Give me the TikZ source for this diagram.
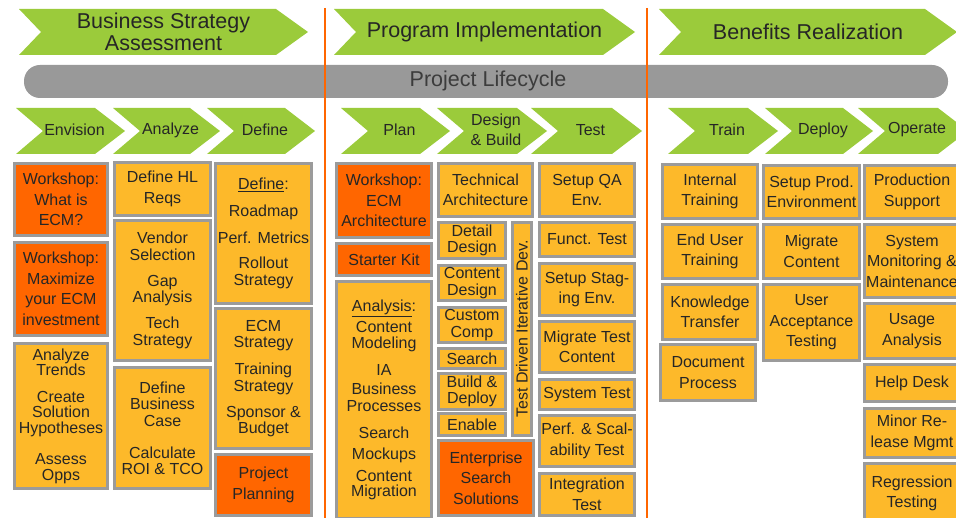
\documentclass[tikz,border=0pt]{standalone}
\usepackage{fontspec}
\setmainfont{Liberation Sans}
\definecolor{leaf}{HTML}{9BCB3B}
\definecolor{amber}{HTML}{FDB92A}
\definecolor{flame}{HTML}{FF6600}
\definecolor{rim}{HTML}{9B9B9B}
\definecolor{bar}{HTML}{999999}
\definecolor{ink}{HTML}{262626}
\newcommand{\phasechev}[4]{\fill[leaf] (#2,9) -- ({#3-32},9) -- (#3,32) -- ({#3-32},55) -- (#2,55) -- ({#2+22},32) -- cycle;
  \node[phasetext] (#1) at ({(#2+#3)/2},32) {#4};}
\newcommand{\stagechev}[4]{\fill[leaf] (#2,108) -- ({#3-30},108) -- (#3,131) -- ({#3-30},154) -- (#2,154) -- ({#2+27},131) -- cycle;
  \node[stagetext] (#1) at ({(#2+#3)/2+4},130) {#4};}
\newcommand{\taskbox}[7]{\node[task,#2,minimum width={#5pt-#3pt-3pt},minimum height={#6pt-#4pt-3pt}] (#1) at ({(#3+#5)/2},{(#4+#6)/2}) {#7};}

\begin{document}
\begin{tikzpicture}[x=1pt,y=-1pt,
    task/.style={draw=rim,line width=3pt,inner sep=0pt,align=center,text=ink,font=\fontsize{16}{20.5}\selectfont},
    hot/.style={fill=flame}, warm/.style={fill=amber},
    dense/.style={font=\fontsize{16}{16.5}\selectfont},
    stagetext/.style={align=center,text=ink,font=\fontsize{16}{20}\selectfont},
    phasetext/.style={align=center,text=ink,font=\fontsize{21.5}{22}\selectfont},
    divider/.style={draw=flame,line width=2.5pt}]
    \useasboundingbox (0,0) rectangle (956,518);
    \clip (0,0) rectangle (956,518);

    \phasechev{bsa}{19}{308}{Business Strategy\\Assessment}
    \phasechev{prog}{334}{635}{Program Implementation}
    \phasechev{bene}{659}{957}{Benefits Realization}

    \fill[bar,rounded corners=16pt] (24,65) rectangle (948,98);
    \node[phasetext,text=ink!90] (life) at (488,81) {Project Lifecycle};

    \coordinate (d1top) at (325,8); \coordinate (d1bot) at (325,518);
    \coordinate (d2top) at (647,8); \coordinate (d2bot) at (647,518);
    \draw[divider] (d1top) -- (d1bot);
    \draw[divider] (d2top) -- (d2bot);

    \stagechev{envision}{16}{125}{Envision}
    \stagechev{analyze}{113}{220}{Analyze}
    \stagechev{definest}{207}{315}{Define}
    \stagechev{plan}{341}{450}{Plan}
    \stagechev{build}{437}{547}{Design\\\& Build}
    \stagechev{test}{531}{642}{Test}
    \stagechev{train}{668}{778}{Train}
    \stagechev{deploy}{765}{873}{Deploy}
    \stagechev{operate}{858}{968}{Operate}

    % Business Strategy Assessment
    \taskbox{ws1}{hot}{13}{162}{109}{237}{Workshop:\\What is\\ECM?}
    \taskbox{ws2}{hot}{13}{241}{109}{337}{Workshop:\\Maximize\\your ECM\\investment}
    \taskbox{trends}{warm,dense}{13}{342}{109}{490}{Analyze\\[-1pt]Trends\\[10pt]Create\\[-1pt]Solution\\[-1pt]Hypotheses\\[15pt]Assess\\[-1pt]Opps}
    \taskbox{hlreqs}{warm}{113}{161}{212}{217}{Define HL\\Reqs}
    \taskbox{vendor}{warm,dense}{113}{219}{212}{362}{Vendor\\Selection\\[10pt]Gap\\[-1pt]Analysis\\[10pt]Tech\\Strategy}
    \taskbox{bcase}{warm,dense}{113}{366}{212}{490}{Define\\Business\\Case\\[16pt]Calculate\\[-1pt]ROI \& TCO}
    \taskbox{defroad}{warm,dense}{214}{162}{313}{305}{\underline{Define}:\\[10.5pt]Roadmap\\[10.5pt]Perf. Metrics\\[8.5pt]Rollout\\Strategy}
    \taskbox{ecmstrat}{warm,dense}{214}{307}{313}{450}{ECM\\Strategy\\[10.5pt]Training\\Strategy\\[9.5pt]Sponsor \&\\Budget}
    \taskbox{projplan}{hot}{214}{453}{313}{517}{Project\\Planning}

    % Program Implementation
    \taskbox{ws3}{hot}{335}{162}{433}{239}{Workshop:\\ECM\\Architecture}
    \taskbox{starter}{hot}{335}{242}{433}{277}{Starter Kit}
    \taskbox{analysis}{warm,dense}{335}{280}{433}{520}{\underline{Analysis}:\\[4.5pt]Content\\Modeling\\[10.5pt]IA\\[2.5pt]Business\\Processes\\[11pt]Search\\[4.5pt]Mockups\\[5pt]Content\\[-1pt]Migration}
    \taskbox{techarch}{warm}{437}{162}{534}{218}{Technical\\Architecture}
    \taskbox{detail}{warm,dense}{437}{221}{507}{260}{Detail\\Design}
    \taskbox{content}{warm,dense}{437}{264}{507}{302}{Content\\Design}
    \taskbox{custom}{warm,dense}{437}{306}{507}{344}{Custom\\Comp}
    \taskbox{search}{warm}{437}{347}{507}{370}{Search}
    \taskbox{bdeploy}{warm,dense}{437}{372}{507}{411}{Build \&\\Deploy}
    \taskbox{enable}{warm}{437}{412}{507}{437}{Enable}
    \node[task,warm,rotate=90,minimum width=213pt,minimum height=19pt] (tdd) at (522,329) {Test Driven Iterative Dev.};
    \taskbox{entsearch}{hot}{437}{439}{535}{517}{Enterprise\\Search\\Solutions}
    \taskbox{qaenv}{warm}{538}{162}{636}{218}{Setup QA\\Env.}
    \taskbox{funct}{warm}{538}{221}{636}{258}{Funct. Test}
    \taskbox{staging}{warm}{538}{262}{636}{317}{Setup Stag-\\ing Env.}
    \taskbox{migtest}{warm}{538}{320}{636}{374}{Migrate Test\\Content}
    \taskbox{systest}{warm}{538}{378}{636}{411}{System Test}
    \taskbox{perf}{warm}{538}{414}{636}{468}{Perf. \& Scal-\\ability Test}
    \taskbox{integ}{warm}{538}{472}{636}{517}{Integration\\Test}

    % Benefits Realization
    \taskbox{inttrain}{warm}{661}{163}{759}{220}{Internal\\Training}
    \taskbox{endtrain}{warm}{661}{223}{759}{280}{End User\\Training}
    \taskbox{knowledge}{warm}{661}{283}{759}{341}{Knowledge\\Transfer}
    \taskbox{docproc}{warm}{659}{343}{757}{402}{Document\\Process}
    \taskbox{prodenv}{warm}{762}{164}{861}{220}{Setup Prod.\\Environment}
    \taskbox{migcont}{warm}{762}{223}{861}{280}{Migrate\\Content}
    \taskbox{uat}{warm}{762}{283}{861}{362}{User\\Acceptance\\Testing}
    \taskbox{prodsup}{warm}{863}{164}{961}{220}{Production\\Support}
    \taskbox{monitor}{warm}{863}{223}{961}{299}{System\\Monitoring \&\\Maintenance}
    \taskbox{usage}{warm}{863}{302}{961}{360}{Usage\\Analysis}
    \taskbox{helpdesk}{warm}{863}{363}{961}{403}{Help Desk}
    \taskbox{minor}{warm}{863}{407}{961}{459}{Minor Re-\\lease Mgmt}
    \taskbox{regress}{warm}{863}{462}{961}{525}{Regression\\Testing}
\end{tikzpicture}
\end{document}
